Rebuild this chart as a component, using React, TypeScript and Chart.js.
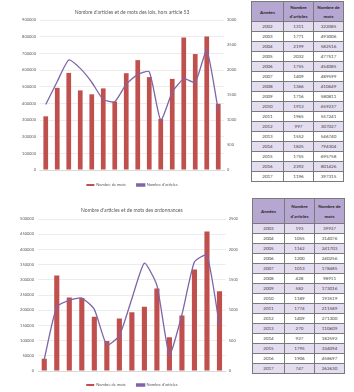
import React, { useEffect, useRef } from "react";
import { Chart, registerables } from "chart.js";

Chart.register(...registerables);

// ---- Data: lois (hors article 53) ----
const loisYears = ["2002", "2003", "2004", "2005", "2006", "2007", "2008", "2009", "2010", "2011", "2012", "2013", "2014", "2015", "2016", "2017"];
const loisArticles = [1311, 1771, 2199, 2032, 1755, 1409, 1366, 1716, 1913, 1965, 997, 1552, 1825, 1755, 2392, 1196];
const loisMots = [322085, 493006, 582516, 477517, 454085, 489599, 410649, 580811, 659237, 557241, 307027, 546740, 794304, 695758, 801426, 397315];

// ---- Data: ordonnances ----
const ordYears = ["2003", "2004", "2005", "2006", "2007", "2008", "2009", "2010", "2011", "2012", "2013", "2014", "2015", "2016", "2017"];
const ordArticles = [193, 1055, 1162, 1200, 1013, 428, 582, 1189, 1774, 1409, 270, 927, 1795, 1906, 747];
const ordMots = [39937, 314076, 241703, 240256, 178485, 98911, 173016, 193519, 211589, 271300, 110609, 182592, 334094, 458697, 262630];

const loisTitle = "Nombre d'articles et de mots des lois, hors article 53";
const ordTitle = "Nombre d'articles et de mots des ordonnances";
const legendMots = "Nombre de mots";
const legendArticles = "Nombre d'articles";
const headerAnnees = "Années";
const headerArticles = "Nombre d'articles";
const headerMots = "Nombre de mots";

const FONT = "Lato, 'Open Sans', sans-serif";
const TXT = "#595959";
const RED = "#C0504D";
const PURPLE = "#7F64A8";

type ComboProps = {
  left: number;
  top: number;
  width: number;
  height: number;
  title: string;
  labels: string[];
  mots: number[];
  articles: number[];
  yMax: number;
  yStep: number;
  y1Max: number;
  y1Step: number;
  leftW: number;
  rightW: number;
  padRight: number;
  titleTop: number;
  titleBottom: number;
  xH: number;
  legendPad: number;
};

function Combo(p: ComboProps) {
  const ref = useRef<HTMLCanvasElement>(null);
  useEffect(() => {
    if (!ref.current) return;
    const tickFont = { family: FONT, size: 4 };
    const chart = new Chart(ref.current, {
      type: "bar",
      data: {
        labels: p.labels,
        datasets: [
          {
            type: "bar",
            label: legendMots,
            data: p.mots,
            backgroundColor: RED,
            borderWidth: 0,
            yAxisID: "y",
            categoryPercentage: 0.82,
            barPercentage: 0.5,
            order: 1,
          },
          {
            type: "line",
            label: legendArticles,
            data: p.articles,
            borderColor: PURPLE,
            backgroundColor: PURPLE,
            borderWidth: 1.3,
            pointRadius: 0,
            tension: 0.18,
            yAxisID: "y1",
            order: 0,
          },
        ],
      } as any,
      options: {
        responsive: false,
        animation: false,
        layout: { padding: { left: 0, right: p.padRight, top: 0, bottom: 0 } },
        plugins: {
          title: {
            display: true,
            text: p.title,
            color: TXT,
            font: { family: FONT, size: 5, weight: "normal" },
            padding: { top: p.titleTop, bottom: p.titleBottom },
            fullSize: false,
          },
          legend: {
            position: "bottom",
            fullSize: false,
            labels: {
              boxWidth: 8,
              boxHeight: 2,
              color: TXT,
              font: { family: FONT, size: 4 },
              padding: p.legendPad,
              sort: (a: any, b: any) => a.datasetIndex - b.datasetIndex,
            },
          },
          tooltip: { enabled: false },
        },
        scales: {
          x: {
            grid: { display: false },
            border: { color: "#d9d9d9" },
            ticks: { color: TXT, font: tickFont, padding: 4, maxRotation: 0, autoSkip: false },
            afterFit: (s: any) => {
              s.height = p.xH;
            },
          },
          y: {
            position: "left",
            min: 0,
            max: p.yMax,
            ticks: { stepSize: p.yStep, color: TXT, font: tickFont, padding: 4, callback: (v: any) => String(v) },
            grid: { color: "#ececec", drawTicks: false },
            border: { display: false },
            afterFit: (s: any) => {
              s.width = p.leftW;
            },
          },
          y1: {
            position: "right",
            min: 0,
            max: p.y1Max,
            ticks: { stepSize: p.y1Step, color: TXT, font: tickFont, padding: 3, callback: (v: any) => String(v) },
            grid: { display: false, drawTicks: false },
            border: { display: false },
            afterFit: (s: any) => {
              s.width = p.rightW;
            },
          },
        },
      } as any,
    });
    return () => chart.destroy();
  }, []);
  return (
    <canvas
      ref={ref}
      width={p.width}
      height={p.height}
      style={{ position: "absolute", left: p.left, top: p.top, width: p.width, height: p.height }}
    />
  );
}

type TableProps = {
  left: number;
  top: number;
  headerH: number;
  years: string[];
  articles: number[];
  mots: number[];
};

function DataTable(t: TableProps) {
  const border = "2px solid #7a7a7a";
  const cell: React.CSSProperties = {
    border,
    textAlign: "center",
    verticalAlign: "middle",
    padding: 0,
    height: 18,
    fontSize: 9,
    color: "#404040",
    lineHeight: "18px",
    boxSizing: "content-box",
  };
  const head: React.CSSProperties = {
    ...cell,
    height: t.headerH * 2 - 2,
    fontWeight: "bold",
    color: "#262626",
    background: "#B5A6D2",
    lineHeight: "19px",
  };
  return (
    <div
      style={{
        position: "absolute",
        left: t.left,
        top: t.top,
        transform: "scale(0.5)",
        transformOrigin: "0 0",
      }}
    >
      <table style={{ borderCollapse: "collapse", fontFamily: FONT, tableLayout: "fixed", width: 184 }}>
        <colgroup>
          <col style={{ width: 64 }} />
          <col style={{ width: 60 }} />
          <col style={{ width: 60 }} />
        </colgroup>
        <thead>
          <tr>
            <th style={head}>{headerAnnees}</th>
            <th style={head}>{headerArticles}</th>
            <th style={head}>{headerMots}</th>
          </tr>
        </thead>
        <tbody>
          {t.years.map((y, i) => {
            const bg = i % 2 === 0 ? "#E4DDF0" : "#FFFFFF";
            return (
              <tr key={y} style={{ background: bg }}>
                <td style={cell}>{y}</td>
                <td style={cell}>{t.articles[i]}</td>
                <td style={cell}>{t.mots[i]}</td>
              </tr>
            );
          })}
        </tbody>
      </table>
    </div>
  );
}

export default function App() {
  return (
    <div
      style={{
        position: "absolute",
        left: 0,
        top: 0,
        width: 354,
        height: 392,
        overflow: "hidden",
        background: "#fff",
      }}
    >
      <Combo
        left={0}
        top={0}
        width={240}
        height={197}
        title={loisTitle}
        labels={loisYears}
        mots={loisMots}
        articles={loisArticles}
        yMax={900000}
        yStep={100000}
        y1Max={3000}
        y1Step={500}
        leftW={40}
        rightW={14}
        padRight={2}
        titleTop={9}
        titleBottom={5}
        xH={2}
        legendPad={11}
      />
      <Combo
        left={0}
        top={196}
        width={240}
        height={201}
        title={ordTitle}
        labels={ordYears}
        mots={ordMots}
        articles={ordArticles}
        yMax={500000}
        yStep={50000}
        y1Max={2500}
        y1Step={500}
        leftW={38}
        rightW={12}
        padRight={2.25}
        titleTop={11}
        titleBottom={6}
        xH={1}
        legendPad={11}
      />
      <DataTable left={251} top={1} headerH={20} years={loisYears} articles={loisArticles} mots={loisMots} />
      <DataTable left={252} top={198} headerH={25} years={ordYears} articles={ordArticles} mots={ordMots} />
    </div>
  );
}
